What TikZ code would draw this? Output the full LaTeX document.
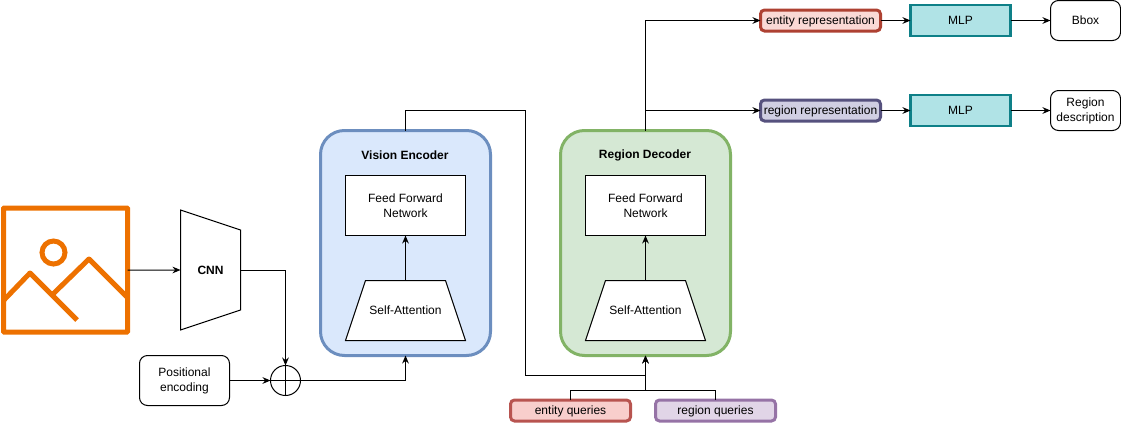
\documentclass[tikz,border=0pt]{standalone}
\usepackage{fontspec}
\setmainfont{Liberation Sans}
\usetikzlibrary{arrows.meta, shapes.geometric}

\definecolor{encfill}{HTML}{DAE8FC}
\definecolor{encline}{HTML}{6C8EBF}
\definecolor{decfill}{HTML}{D5E8D4}
\definecolor{decline}{HTML}{82B366}
\definecolor{mlpfill}{HTML}{B0E3E6}
\definecolor{mlpline}{HTML}{0E8088}
\definecolor{entfill}{HTML}{FAD9D5}
\definecolor{entline}{HTML}{AE4132}
\definecolor{regfill}{HTML}{D0CEE2}
\definecolor{regline}{HTML}{56517E}
\definecolor{eqfill}{HTML}{F8CECC}
\definecolor{eqline}{HTML}{B85450}
\definecolor{rqfill}{HTML}{E1D5E7}
\definecolor{rqline}{HTML}{9673A6}
\definecolor{imgline}{HTML}{ED7100}

\begin{document}
\begin{tikzpicture}[x=0.75pt, y=-0.75pt, >={Stealth[length=6pt, width=5pt]},
      line width=0.75pt,
      every node/.style={inner sep=0pt, outer sep=0pt, align=center,
                         font=\fontsize{9}{11.25}\selectfont},
      blk/.style={draw, fill=white, minimum width=90pt, minimum height=45pt},
      rblk/.style={draw, fill=white, rounded corners=6pt},
      tblk/.style={draw, trapezium, trapezium angle=71.57, fill=white,
                   text height=7.6pt, text depth=1.4pt},
      big/.style={draw, line width=2.25pt, rounded corners=18pt,
                  minimum width=127.5pt, minimum height=168.75pt},
      tag/.style={draw, line width=2.25pt, rounded corners=3pt, text height=7.6pt, text depth=2pt,
                  minimum width=90pt, minimum height=15.75pt},
      mlp/.style={draw=mlpline, fill=mlpfill, line width=1.7pt,
                  minimum width=75pt, minimum height=23.25pt},
      ttl/.style={font=\fontsize{9}{11.25}\selectfont\bfseries},
      arr/.style={->},
      imgln/.style={imgline, line width=3.75pt}]

    \useasboundingbox (0, 0) rectangle (1121, 422);

    % ============================
    % INPUT IMAGE AND BACKBONE
    % ============================
    \node[draw=imgline, line width=3.75pt, rounded corners=0.5pt,
          minimum width=93pt, minimum height=93pt] (image) at (65.5, 270) {};
    \draw[imgln] (53.5, 252.5) circle (11.5);
    \draw[imgln, line join=round] (4, 300) -- (30, 273) -- (77, 320);
    \draw[imgln, line join=round] (53, 294) -- (89, 259) -- (127, 297);

    \node[tblk, shape border rotate=270, ttl, text width=45pt, inner ysep=25.5pt] (cnn) at (210.5, 270) {CNN};

    \node[rblk, minimum width=67.5pt, minimum height=37.5pt] (posenc) at (184.5, 380.5) {Positional\\encoding};
    \node[draw, circle, minimum size=22.5pt] (plus) at (285.5, 380.5) {};
    \draw (plus.north) -- (plus.south);
    \draw (plus.west) -- (plus.east);

    \draw[arr] (image.east) -- (cnn.west);
    \draw[arr] (cnn.east) -| (plus.north);
    \draw[arr] (posenc.east) -- (plus.west);

    % ============================
    % ENCODER AND DECODER
    % ============================
    \node[big, fill=encfill, draw=encline] (enc) at (405.5, 243) {};
    \node[ttl] (enctitle) at (405, 155) {Vision Encoder};
    \node[blk] (encffn) at (405.5, 205.5) {Feed Forward\\Network};
    \node[tblk, text width=60pt, inner ysep=18pt] (encsa) at (405.5, 310.5) {Self-Attention};

    \node[big, fill=decfill, draw=decline] (dec) at (645.5, 243) {};
    \node[ttl] (dectitle) at (645, 155) {Region Decoder};
    \node[blk] (decffn) at (645.5, 205.5) {Feed Forward\\Network};
    \node[tblk, text width=60pt, inner ysep=18pt] (decsa) at (645.5, 310.5) {Self-Attention};

    \draw[arr] (encsa.north) -- (encffn.south);
    \draw[arr] (decsa.north) -- (decffn.south);
    \draw[arr] (plus.east) -| (enc.south);

    % ============================
    % QUERIES
    % ============================
    \node[tag, fill=eqfill, draw=eqline] (entq) at (570.5, 410.5) {entity queries};
    \node[tag, fill=rqfill, draw=rqline] (regq) at (715.5, 410.5) {region queries};

    \coordinate (encup) at (405.5, 110.5);
    \coordinate (encdown) at (525.5, 375.5);
    \coordinate (qjoin) at (645.5, 390.5);

    \draw[arr] (enc.north) -- (encup) -| (encdown) -| (dec.south);
    \draw (entq.north) |- (qjoin);
    \draw (regq.north) |- (qjoin);
    \draw[arr] (qjoin) -- (dec.south);

    % ============================
    % OUTPUT BRANCHES
    % ============================
    \node[tag, fill=entfill, draw=entline] (entrep) at (820.5, 20.5) {entity representation};
    \node[tag, fill=regfill, draw=regline] (regrep) at (820.5, 110.5) {region representation};
    \node[mlp] (mlpa) at (960.5, 20.5) {MLP};
    \node[mlp] (mlpb) at (960.5, 110.5) {MLP};
    \node[rblk, minimum width=52.5pt, minimum height=30pt] (bbox) at (1085.5, 20.5) {Bbox};
    \node[rblk, minimum width=52.5pt, minimum height=30pt] (regdesc) at (1085.5, 110.5) {Region\\description};

    \draw[arr] (dec.north) |- (entrep.west);
    \draw[arr] (dec.north |- regrep.west) -- (regrep.west);
    \foreach \src/\dst in {entrep/mlpa, regrep/mlpb, mlpa/bbox, mlpb/regdesc} {
      \draw[arr] (\src.east) -- (\dst.west);
    }

\end{tikzpicture}
\end{document}
